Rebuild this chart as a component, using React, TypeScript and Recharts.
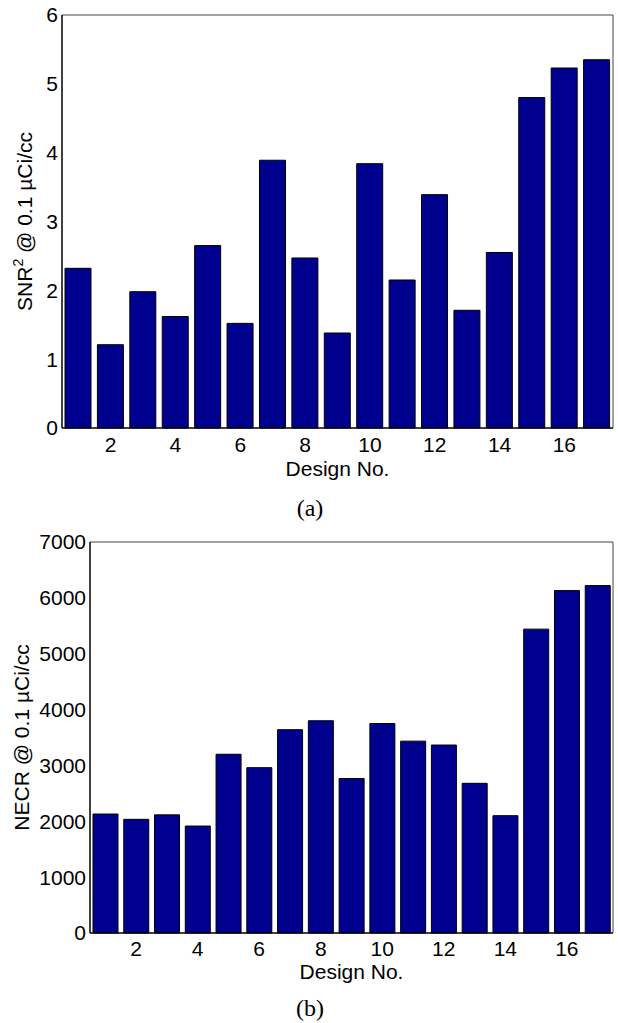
import React from 'react'
import { BarChart, Bar, XAxis, YAxis } from 'recharts'

// values
const designNo = [1, 2, 3, 4, 5, 6, 7, 8, 9, 10, 11, 12, 13, 14, 15, 16, 17]
const snr2 = [2.32, 1.21, 1.98, 1.62, 2.65, 1.52, 3.89, 2.47, 1.38, 3.84, 2.15, 3.39, 1.71, 2.55, 4.8, 5.23, 5.35]
const necr = [2130, 2035, 2115, 1915, 3200, 2960, 3640, 3800, 2765, 3750, 3435, 3365, 2680, 2100, 5440, 6130, 6220]

const designTicks = [2, 4, 6, 8, 10, 12, 14, 16]
const snrTicks = [0, 1, 2, 3, 4, 5, 6]
const necrTicks = [0, 1000, 2000, 3000, 4000, 5000, 6000, 7000]

const snrData = designNo.map((d, i) => ({ design: d, value: snr2[i] }))
const necrData = designNo.map((d, i) => ({ design: d, value: necr[i] }))

const font = '"Liberation Sans", Arial, Helvetica, sans-serif'
const tickStyle = { fill: '#000', fontSize: 21, fontFamily: font }

const yLabel = (main: string, sup: string, rest: string, dx: number) => (props: any) => {
  const vb = props.viewBox
  const cx = vb.x + dx
  const cy = vb.y + vb.height / 2
  return (
    <text x={cx} y={cy} transform={`rotate(-90 ${cx} ${cy})`} textAnchor="middle" dy={7}
      style={{ fontSize: 21, fontFamily: font, fill: '#000' }}>
      {main}
      {sup ? <tspan dy={-9} fontSize={14}>{sup}</tspan> : null}
      <tspan dy={sup ? 9 : 0}>{rest}</tspan>
    </text>
  )
}

const xLabel = (below: number) => (props: any) => {
  const vb = props.viewBox
  return (
    <text x={vb.x + vb.width / 2} y={vb.y + below} textAnchor="middle"
      style={{ fontSize: 21, fontFamily: font, fill: '#000' }}>
      Design No.
    </text>
  )
}

type PanelProps = {
  data: { design: number; value: number }[]
  yTicks: number[]
  yMax: number
  top: number
  height: number
  marginTop: number
  axisWidth: number
  xAxisHeight: number
  barSize: number
  tickGap: number
  labelBelow: number
  labelDx: number
  label: [string, string, string]
}

const Panel = (p: PanelProps) => (
  <div style={{ position: 'absolute', left: 0, top: p.top }}>
    <BarChart width={618} height={p.height} data={p.data}
      margin={{ top: p.marginTop, right: 5, bottom: 0, left: 0 }}>
      <XAxis dataKey="design" type="number" domain={[0.5, 17.5]} ticks={designTicks}
        allowDataOverflow interval={0} height={p.xAxisHeight} tickLine={false} tickSize={0} tickMargin={p.tickGap}
        axisLine={{ stroke: '#000', strokeWidth: 1.5 }} tick={tickStyle} label={xLabel(p.labelBelow)} />
      <XAxis xAxisId="top" orientation="top" mirror type="number" domain={[0.5, 17.5]} ticks={designTicks}
        allowDataOverflow interval={0} tick={false} tickSize={5} tickLine={{ stroke: '#444' }}
        axisLine={{ stroke: '#444' }} />
      <YAxis type="number" domain={[0, p.yMax]} ticks={p.yTicks} interval={0} width={p.axisWidth}
        tickLine={false} tickSize={0} tickMargin={4} axisLine={{ stroke: '#000', strokeWidth: 1.5 }}
        tick={tickStyle} label={yLabel(p.label[0], p.label[1], p.label[2], p.labelDx)} />
      <YAxis yAxisId="right" orientation="right" mirror type="number" domain={[0, p.yMax]} ticks={p.yTicks}
        interval={0} tick={false} tickSize={5} tickLine={{ stroke: '#444' }} axisLine={{ stroke: '#444' }} />
      <Bar dataKey="value" fill="#00008F" stroke="#000" strokeWidth={1} barSize={p.barSize}
        isAnimationActive={false} />
    </BarChart>
  </div>
)

const caption = (text: string, top: number) => (
  <div style={{ position: 'absolute', left: 260, top, width: 100, textAlign: 'center',
    fontFamily: '"Liberation Serif", "Times New Roman", serif', fontSize: 24, lineHeight: '28px' }}>
    {text}
  </div>
)

export default function App() {
  return (
    <div style={{ position: 'absolute', left: 0, top: 0, width: 618, height: 1023, background: '#fff' }}>
      <Panel data={snrData} yTicks={snrTicks} yMax={6} top={0} height={480} marginTop={15}
        axisWidth={62} xAxisHeight={52} barSize={26} tickGap={9} labelBelow={48} labelDx={25}
        label={['SNR', '2', ' @ 0.1 \u00B5Ci/cc']} />
      {caption('(a)', 494)}
      <Panel data={necrData} yTicks={necrTicks} yMax={7000} top={500} height={500} marginTop={42}
        axisWidth={90} xAxisHeight={67} barSize={25} tickGap={8} labelBelow={46} labelDx={22}
        label={['NECR', '', ' @ 0.1 \u00B5Ci/cc']} />
      {caption('(b)', 994)}
    </div>
  )
}
